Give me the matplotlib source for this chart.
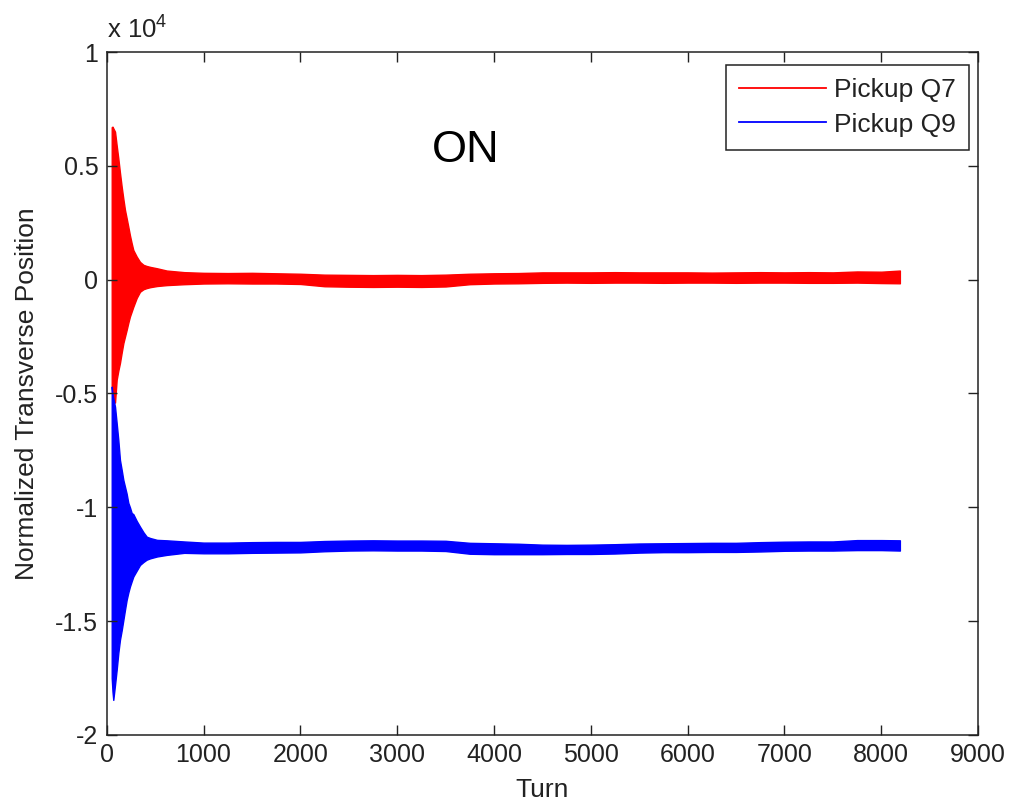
import matplotlib
matplotlib.use("Agg")
import matplotlib.pyplot as plt
from matplotlib.lines import Line2D
import numpy as np

plt.rcParams['font.family'] = ['Liberation Sans', 'DejaVu Sans']
plt.rcParams['mathtext.default'] = 'regular'

# Turn positions where the envelope of each signal was read
turns = [52, 60, 68, 86, 103, 120, 137, 155, 172, 189, 206, 223, 240, 258, 275,
         310, 344, 380, 413, 450, 520, 620, 800, 1000, 1250, 1500, 1750, 2000,
         2250, 2500, 2750, 3000, 3250, 3500, 3750, 4000, 4250, 4500, 4750, 5000,
         5250, 5500, 5750, 6000, 6250, 6500, 6750, 7000, 7250, 7500, 7750, 8000, 8192]

# Pickup Q7 (red) envelope
q7_upper = [6700, 6720, 6650, 6500, 5900, 5330, 4700, 4080, 3550, 3060, 2700, 2330, 1950,
            1600, 1300, 1010, 780, 650, 600, 560, 500, 400, 330, 300, 290, 300, 280, 260,
            220, 210, 200, 210, 200, 220, 260, 280, 290, 320, 320, 320,
            330, 320, 320, 320, 310, 320, 330, 320, 330, 320, 360, 350, 400]
q7_lower = [-4700, -5200, -5300, -5400, -4400, -4000, -3660, -3200, -2790, -2500, -2210, -1900, -1620,
            -1400, -1190, -800, -530, -420, -370, -330, -280, -240, -200, -170, -160, -170, -170, -190,
            -290, -310, -320, -310, -320, -300, -200, -170, -160, -140, -130, -140,
            -130, -130, -140, -130, -130, -140, -130, -130, -140, -140, -130, -150, -160]

# Pickup Q9 (blue) envelope
q9_upper = [-4700, -5000, -5200, -5580, -6300, -7040, -7920, -8360, -8800, -9100, -9400, -9800, -10000,
            -10250, -10300, -10600, -10850, -11100, -11290, -11350, -11430, -11450, -11500, -11550,
            -11550, -11530, -11520, -11520, -11480, -11460, -11450, -11460, -11460, -11470, -11560,
            -11580, -11600, -11640, -11650, -11640, -11620, -11590, -11580, -11570, -11560, -11560,
            -11530, -11510, -11500, -11500, -11440, -11440, -11450]
q9_lower = [-17500, -18100, -18460, -17800, -17140, -16400, -15820, -15400, -14950, -14500, -14070,
            -13750, -13480, -13250, -13040, -12780, -12530, -12400, -12300, -12240, -12160, -12090,
            -12000, -12020, -12020, -12000, -11990, -11980, -11930, -11900, -11890, -11900, -11900,
            -11920, -12040, -12060, -12060, -12060, -12050, -12050, -12030, -11990, -11970, -11970,
            -11960, -11960, -11940, -11910, -11900, -11900, -11880, -11880, -11900]

series_labels = ["Pickup Q7", "Pickup Q9"]
xticks = [0, 1000, 2000, 3000, 4000, 5000, 6000, 7000, 8000, 9000]
yticks = [-20000, -15000, -10000, -5000, 0, 5000, 10000]
ytick_labels = ["-2", "-1.5", "-1", "-0.5", "0", "0.5", "1"]

fig = plt.figure(figsize=(10.21, 8.05), dpi=100)
ax = fig.add_axes([0.1045, 0.087, 0.8535, 0.8484])

red = (1, 0, 0)
blue = (0, 0, 1)
ax.fill_between(turns, q7_lower, q7_upper, facecolor=red, edgecolor=red, linewidth=1.0)
ax.fill_between(turns, q9_lower, q9_upper, facecolor=blue, edgecolor=blue, linewidth=1.0)

ax.set_xlim(0, 9000)
ax.set_ylim(-20000, 10000)
ax.set_xticks(xticks)
ax.set_xticklabels([str(t) for t in xticks])
ax.set_yticks(yticks)
ax.set_yticklabels(ytick_labels)

tc = '#222222'
ax.tick_params(direction='in', length=7, width=1, top=True, right=True,
               labelsize=18, colors=tc, pad=6)
for s in ax.spines.values():
    s.set_color(tc)
    s.set_linewidth(1.1)

ax.set_xlabel("Turn", fontsize=19, color=tc, labelpad=8)
ax.set_ylabel("Normalized Transverse Position", fontsize=19, color=tc, labelpad=12)

ax.text(0.0, 1.019, "x 10$^{4}$", transform=ax.transAxes, fontsize=18.5,
        ha='left', va='baseline', color=tc)
ax.text(0.412, 0.856, "ON", transform=ax.transAxes, fontsize=32.5,
        ha='center', va='center', color='black')

handles = [Line2D([], [], color=red, lw=1.3), Line2D([], [], color=blue, lw=1.3)]
leg = ax.legend(handles, series_labels, loc='upper right', bbox_to_anchor=(0.990, 0.981),
                borderaxespad=0, fontsize=19, frameon=True, fancybox=False,
                handlelength=3.3, handletextpad=0.3, labelspacing=0.4,
                borderpad=0.5, framealpha=1)
leg.get_frame().set_edgecolor(tc)
leg.get_frame().set_linewidth(1.1)
for t in leg.get_texts():
    t.set_color(tc)

fig.savefig("out.png", dpi=100)
